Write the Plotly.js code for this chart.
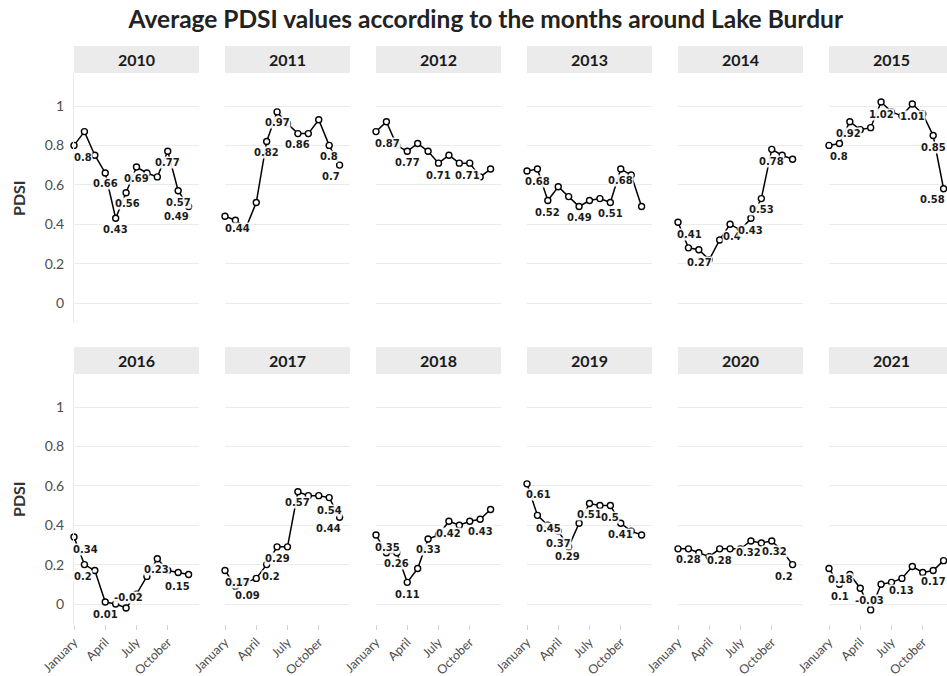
<!DOCTYPE html>
<html>
<head>
<meta charset="utf-8">
<script src="https://cdn.plot.ly/plotly-3.0.1.min.js"></script>
<style>
  html, body { margin: 0; padding: 0; background: #ffffff; }
  #chart { width: 947px; height: 676px; }
</style>
</head>
<body>
<div id="chart"></div>
<script>
// Monthly average PDSI around Lake Burdur, one panel per year
const years = [2010, 2011, 2012, 2013, 2014, 2015, 2016, 2017, 2018, 2019, 2020, 2021];
const monthNumbers = [1, 2, 3, 4, 5, 6, 7, 8, 9, 10, 11, 12];
const tickMonths = [1, 4, 7, 10];
const tickLabels = ["January", "April", "July", "October"];

const pdsi2010 = [0.80, 0.87, 0.75, 0.66, 0.43, 0.56, 0.69, 0.66, 0.64, 0.77, 0.57, 0.49];
const pdsi2011 = [0.44, 0.42, 0.38, 0.51, 0.82, 0.97, 0.91, 0.86, 0.86, 0.93, 0.80, 0.70];
const pdsi2012 = [0.87, 0.92, 0.80, 0.77, 0.81, 0.77, 0.71, 0.75, 0.71, 0.71, 0.64, 0.68];
const pdsi2013 = [0.67, 0.68, 0.52, 0.59, 0.54, 0.49, 0.52, 0.53, 0.51, 0.68, 0.65, 0.49];
const pdsi2014 = [0.41, 0.28, 0.27, 0.22, 0.32, 0.40, 0.37, 0.43, 0.53, 0.78, 0.75, 0.73];
const pdsi2015 = [0.80, 0.81, 0.92, 0.88, 0.89, 1.02, 0.97, 0.95, 1.01, 0.96, 0.85, 0.58];
const pdsi2016 = [0.34, 0.20, 0.17, 0.01, 0.00, -0.02, 0.05, 0.14, 0.23, 0.17, 0.16, 0.15];
const pdsi2017 = [0.17, 0.09, 0.11, 0.13, 0.20, 0.29, 0.29, 0.57, 0.55, 0.55, 0.54, 0.44];
const pdsi2018 = [0.35, 0.26, 0.26, 0.11, 0.18, 0.33, 0.35, 0.42, 0.40, 0.42, 0.43, 0.48];
const pdsi2019 = [0.61, 0.45, 0.40, 0.37, 0.29, 0.41, 0.51, 0.50, 0.50, 0.41, 0.37, 0.35];
const pdsi2020 = [0.28, 0.28, 0.26, 0.24, 0.28, 0.28, 0.28, 0.32, 0.31, 0.32, 0.27, 0.20];
const pdsi2021 = [0.18, 0.10, 0.15, 0.08, -0.03, 0.10, 0.11, 0.13, 0.19, 0.16, 0.17, 0.22];

const seriesByYear = [pdsi2010, pdsi2011, pdsi2012, pdsi2013, pdsi2014, pdsi2015,
                      pdsi2016, pdsi2017, pdsi2018, pdsi2019, pdsi2020, pdsi2021];

// Which months carry a value label, with the label's offset in px: [month, dx, dy(down)]
const labelPlacement = [
  [[1, 9, 12], [4, 0, 11], [5, 0, 11], [6, 1, 11], [7, 0, 11], [10, 0, 11], [11, 0, 12], [12, -12, 10]],
  [[1, 12, 12], [5, 0, 11], [6, 0, 11], [8, 0, 11], [11, 0, 11], [12, -9, 11]],
  [[1, 11, 12], [4, 0, 11], [7, 0, 12], [10, -2, 12]],
  [[2, 0, 12], [3, 0, 12], [6, 0, 11], [9, 0, 11], [10, 0, 11]],
  [[1, 11, 12], [3, 1, 13], [6, 2, 12], [8, 0, 12], [9, 0, 11], [10, 0, 12]],
  [[1, 10, 11], [3, -1, 12], [6, 0, 12], [9, 0, 12], [11, 0, 12], [12, -11, 11]],
  [[1, 11, 12], [2, -1, 12], [4, 0, 12], [6, 2, -10], [9, -1, 11], [12, -11, 12]],
  [[1, 12, 12], [2, 12, 9], [5, 4, 12], [6, 0, 12], [8, 0, 11], [11, 0, 13], [12, -11, 11]],
  [[1, 11, 12], [3, 0, 11], [4, 0, 12], [6, 0, 11], [8, 0, 12], [11, 0, 12]],
  [[1, 11, 11], [2, 11, 13], [4, 0, 12], [5, -1, 10], [7, 0, 11], [9, 0, 12], [10, 0, 11]],
  [[2, 0, 11], [5, 0, 12], [8, -2, 12], [10, 3, 11], [12, -9, 12]],
  [[1, 11, 11], [2, 1, 12], [5, -1, -9], [8, 0, 12], [11, 0, 11]]
];

// ---- geometry (pixels) ----
const W = 947, H = 676;
const panelLeft0 = 74, panelStep = 151, panelWidth = 125;
const pxPerMonth = panelWidth / 12;
const rows = [
  { stripTop: 46, panelTop: 73, panelBottom: 323 },
  { stripTop: 347, panelTop: 374, panelBottom: 624 }
];
const yRange = [-0.1015, 1.1675];

const FONT = "Lato, 'Open Sans', sans-serif";
const LABEL_FONT = "'DejaVu Sans', sans-serif";
const fmt = v => String(+v.toFixed(2));

const traces = [];
const layout = {
  width: W, height: H,
  margin: { l: 0, r: 0, t: 0, b: 0 },
  paper_bgcolor: "#ffffff",
  plot_bgcolor: "#ffffff",
  showlegend: false,
  title: {
    text: "<b>Average PDSI values according to the months around Lake Burdur</b>",
    font: { family: FONT, size: 24.5, color: "#222222" },
    x: 0.513, xanchor: "center", y: 1 - 19 / H, yanchor: "middle"
  },
  shapes: [],
  annotations: []
};

years.forEach((year, i) => {
  const r = Math.floor(i / 6), c = i % 6;
  const row = rows[r];
  const left = panelLeft0 + c * panelStep;
  const right = Math.min(left + panelWidth, W);
  const k = i + 1;
  const xa = "xaxis" + (k === 1 ? "" : k);
  const ya = "yaxis" + (k === 1 ? "" : k);
  const xr = "x" + (k === 1 ? "" : k);
  const yr = "y" + (k === 1 ? "" : k);

  layout[xa] = {
    domain: [left / W, right / W],
    anchor: yr,
    range: [1, 1 + (right - left) / pxPerMonth],
    showgrid: false, zeroline: false, showline: false,
    tickvals: tickMonths, ticktext: tickLabels,
    showticklabels: r === 1,
    ticks: r === 1 ? "outside" : "",
    ticklen: 5, tickcolor: "#d4d4d4", tickwidth: 1,
    tickangle: -45,
    tickfont: { family: FONT, size: 12.5, color: "#4d4d4d" },
    fixedrange: true
  };
  layout[ya] = {
    domain: [1 - row.panelBottom / H, 1 - row.panelTop / H],
    anchor: xr,
    range: yRange,
    tickvals: [0, 0.2, 0.4, 0.6, 0.8, 1],
    ticktext: ["0", "0.2", "0.4", "0.6", "0.8", "1"],
    showticklabels: c === 0,
    ticks: "",
    ticklabelstandoff: 6,
    tickfont: { family: FONT, size: 14, color: "#4d4d4d" },
    showgrid: true, gridcolor: "#ebebeb", gridwidth: 1,
    zeroline: false,
    showline: c === 0, linecolor: "#ebebeb", linewidth: 1,
    fixedrange: true
  };

  const values = seriesByYear[i];
  traces.push({
    type: "scatter", mode: "lines+markers",
    x: monthNumbers, y: values,
    xaxis: xr, yaxis: yr,
    line: { color: "#000000", width: 1.5 },
    marker: { symbol: "circle", size: 6, color: "#ffffff", line: { color: "#000000", width: 1.4 } },
    cliponaxis: false,
    hoverinfo: "skip"
  });

  // facet strip
  layout.shapes.push({
    type: "rect", xref: "paper", yref: "paper",
    x0: left / W, x1: right / W,
    y0: 1 - row.panelTop / H, y1: 1 - row.stripTop / H,
    fillcolor: "#ebebeb", line: { width: 0 }, layer: "below"
  });
  layout.annotations.push({
    xref: "paper", yref: "paper",
    x: (left + panelWidth / 2) / W, y: 1 - (row.stripTop + row.panelTop) / 2 / H,
    xanchor: "center", yanchor: "middle",
    text: "<b>" + year + "</b>", showarrow: false,
    font: { family: FONT, size: 16, color: "#1a1a1a" }
  });

  // value labels
  labelPlacement[i].forEach(([m, dx, dy]) => {
    const v = values[m - 1];
    layout.annotations.push({
      xref: xr, yref: yr, x: m, y: v,
      text: "<b>" + fmt(v) + "</b>", showarrow: false,
      xanchor: "center", yanchor: "middle",
      xshift: dx, yshift: -dy,
      bgcolor: "rgba(255,255,255,0.9)", borderpad: 0,
      font: { family: LABEL_FONT, size: 10, color: "#1a1a1a" }
    });
  });
});

// y-axis titles, one per row
rows.forEach(row => {
  layout.annotations.push({
    xref: "paper", yref: "paper",
    x: 18 / W, y: 1 - (row.panelTop + row.panelBottom) / 2 / H,
    xanchor: "center", yanchor: "middle", textangle: -90,
    text: "<b>PDSI</b>", showarrow: false,
    font: { family: FONT, size: 16, color: "#333333" }
  });
});

Plotly.newPlot("chart", traces, layout, { staticPlot: true, displayModeBar: false });
</script>
</body>
</html>
